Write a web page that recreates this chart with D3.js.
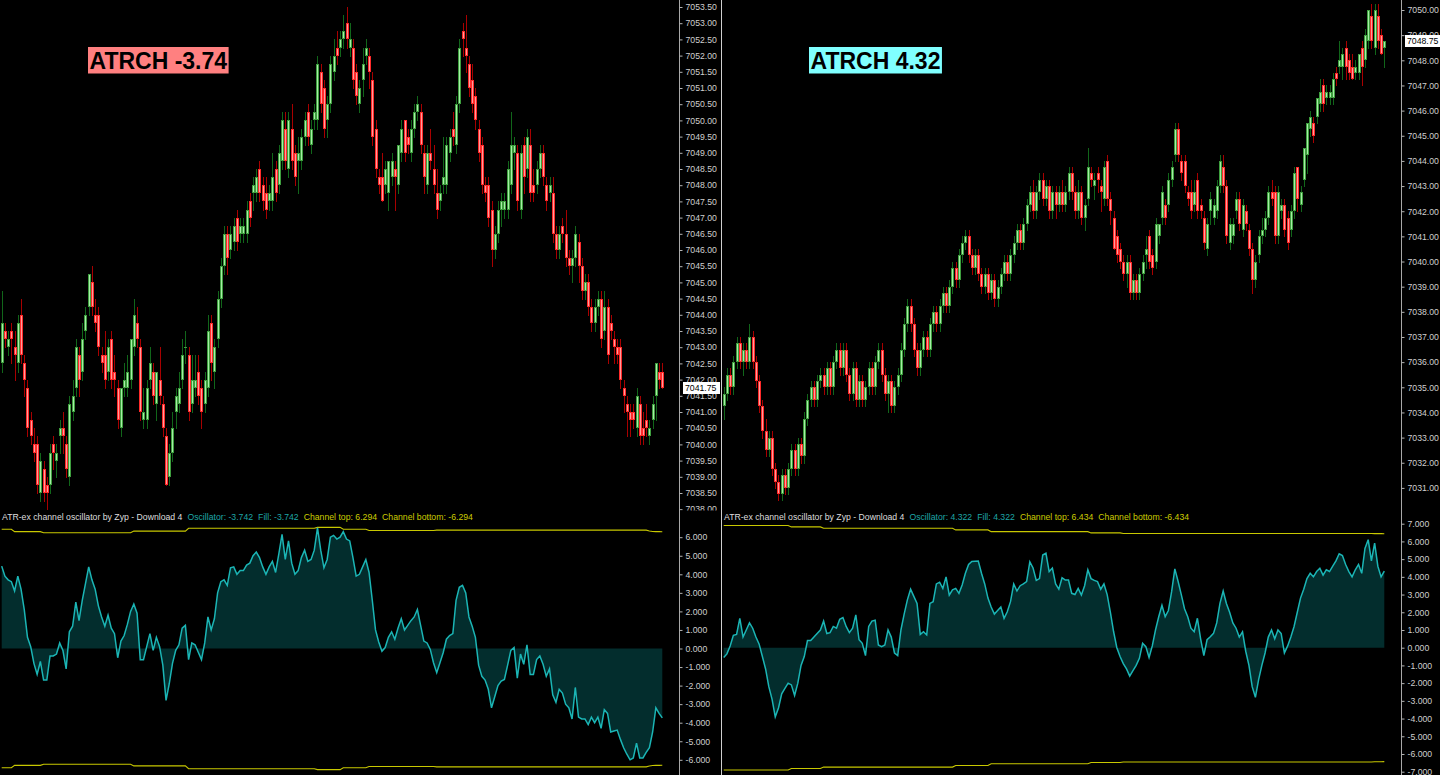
<!DOCTYPE html>
<html><head><meta charset="utf-8">
<script src="https://cdn.jsdelivr.net/npm/d3@7"></script>
<style>html,body{margin:0;padding:0;background:#000;overflow:hidden}svg{display:block}</style>
</head><body><svg id="c" width="1440" height="775"></svg>
<script>
// ---------------- LEFT CHART DATA ----------------
const leftOpen = [
7042.5,7043.5,7043,7043.5,7043,7042.5,7044,7042.5,7041.75,7040.75,
7040,7040,7038.5,7039.25,7038.75,7038.75,7040,7039.5,7040.25,7040.5,
7040,7039,7041,7041.75,7042.75,7042.25,7043.5,7044.25,7045,7044,
7044,7042.75,7042.75,7042.25,7043.25,7042.25,7041.75,7040.5,7041.75,7041.75,
7042,7043,7043.75,7043,7040.75,7040.75,7042,7042.25,7041.25,7042,
7041.25,7040.25,7039,7039.75,7041,7041.25,7042,7043,7042.75,7041.25,
7041.75,7042.25,7041.75,7041.25,7041.75,7043.75,7042.25,7043.25,7044.5,7045.5,
7046.5,7046,7046.25,7047,7046.5,7046.5,7046.5,7047.5,7047.75,7047.75,
7048.5,7048,7047.75,7047.5,7047.5,7048.5,7048,7048.75,7049.75,7048.5,
7049.75,7049,7048.75,7048.75,7049.5,7050.25,7049.25,7050,7050,7051.5,
7051,7050,7050.5,7051.5,7052.25,7052.25,7052.5,7053,7052.25,7052.25,
7051.5,7050.5,7051.25,7052,7052,7051.25,7049.75,7048.25,7048.25,7048,
7047.75,7048.25,7048.5,7048,7049,7050,7049.5,7049,7049.75,7050.25,
7050.25,7049,7048,7049,7048.5,7047.75,7047.5,7048,7048,7049,
7049.75,7049.25,7050.5,7052.75,7052.25,7051.75,7051.25,7050.75,7049.75,7049.25,
7048,7048,7047.25,7046,7046.5,7047.25,7047.25,7047.25,7048,7049,
7049,7047.25,7049.25,7048.5,7049.25,7048,7048,7048.5,7049,7048,
7047.75,7047.75,7046.5,7046,7046.75,7046.5,7045.75,7045.5,7045.75,7046.25,
7045.5,7044.75,7045,7044.25,7043.75,7044.25,7044.5,7043.5,7044.25,7043.75,
7043.25,7043,7043,7041.75,7041.25,7041,7041,7040.5,7041.25,7040.5,
7040.75,7040.25,7040.75,7041.5,7042.25,7042.25];
const leftHigh = [
7044.75,7043.75,7043.5,7043.75,7043.5,7044,7044.5,7042.75,7042,7041,
7040.5,7040.25,7039.75,7039.5,7039,7040,7040.25,7040,7040.75,7041,
7040.25,7041.5,7042,7043.25,7043,7043.75,7044.25,7045.25,7045.5,7044.5,
7044.25,7043,7043.5,7043.25,7043.5,7042.75,7042,7041.75,7042.5,7042.75,
7043.25,7044.5,7044.25,7043.25,7041.75,7042,7043,7042.5,7042.25,7043,
7041.5,7040.5,7040,7041,7041.75,7042.25,7043.25,7043.5,7043,7042.75,
7042.75,7042.75,7042,7042.25,7044,7044,7043.25,7044.75,7045.75,7046.75,
7046.75,7046.75,7047,7047.25,7047,7047,7047.5,7047.75,7048.25,7048.5,
7048.75,7048.25,7048.25,7048,7049,7048.75,7049.25,7050.25,7050.25,7050.25,
7050.5,7049.25,7049.5,7049.75,7050.25,7050.5,7050,7050.5,7052,7051.75,
7051.25,7050.75,7052,7052.5,7052.75,7052.75,7053.25,7053.5,7053,7052.5,
7051.75,7051.25,7052.25,7052.5,7052.25,7051.5,7050,7048.5,7049,7048.75,
7048.75,7049,7048.75,7049.25,7050,7050,7049.75,7050,7050.5,7050.75,
7050.5,7049.25,7049.25,7049.75,7049.25,7048.5,7048,7049.5,7049.5,7049.75,
7050.25,7050.75,7052.5,7053,7053.25,7052,7051.75,7051,7050,7049.5,
7048.25,7048.25,7047.5,7046.75,7047.5,7047.75,7047.75,7048.75,7050.25,7049.5,
7049.25,7049.25,7049.5,7049.75,7049.75,7048.5,7048.75,7049.25,7049.25,7048.25,
7048.25,7048.25,7046.75,7046.75,7047,7047.25,7046,7046,7046.75,7046.5,
7045.75,7045.25,7045.25,7044.5,7044.5,7044.75,7044.75,7044.75,7044.5,7044,
7043.5,7043.25,7043.25,7042,7041.5,7041.25,7041.25,7041.75,7041.5,7041,
7041.25,7040.75,7041.5,7042.5,7042.5,7042.5];
const leftLow = [
7042.25,7043,7042.75,7042.5,7042,7042.25,7042.5,7041.5,7040.25,7040,
7039.5,7038.5,7038.25,7038.25,7038,7038.5,7039.25,7039,7039.75,7039.75,
7039,7038.75,7040.75,7041.5,7041.5,7042,7043.25,7044,7044,7043.5,
7042.75,7042.25,7041.75,7042,7041.75,7041.5,7040.5,7040.25,7041.5,7041.5,
7041.75,7042.75,7043,7040.75,7040.5,7040.5,7041.75,7041.25,7040.75,7041.25,
7040.25,7038.75,7038.75,7039.5,7040.5,7041,7041.75,7042.5,7040.75,7041,
7041.5,7041.25,7040.5,7041,7041.5,7042,7041.75,7043,7044.25,7045.25,
7045.25,7045.75,7046,7046,7046.25,7046.25,7046.25,7046.75,7047.25,7047.5,
7047.5,7047.25,7047,7047.25,7047.25,7047.5,7047.75,7048.5,7048.5,7048.25,
7048.5,7048,7047.75,7048.5,7049.25,7049.25,7049,7049.75,7049.75,7050.25,
7049.5,7049.5,7050.25,7051.25,7051.75,7052,7052.25,7052.25,7052,7051,
7050.5,7050.25,7050.75,7051.75,7051,7049.25,7048.25,7047.75,7047.5,7047.75,
7047.25,7048,7047.25,7047.75,7048.75,7048.75,7049,7048.75,7049.5,7050,
7049,7047.75,7047.75,7048.5,7047.75,7047,7047.25,7047.75,7047.75,7048.75,
7049.25,7049,7050.25,7052,7051.5,7050.75,7050.25,7049.75,7048.75,7047.75,
7047.5,7046.75,7045.5,7045.75,7046.25,7046.75,7047,7047,7047.75,7048.5,
7047.25,7047,7047.75,7048.25,7047.5,7047.5,7047.75,7048.25,7048,7047.25,
7047.5,7046.25,7045.75,7045.75,7046.25,7045.5,7045.25,7045,7045.5,7045,
7044.5,7044.5,7044,7043.5,7043.5,7044,7043,7043.25,7042.5,7043.25,
7042.5,7042.5,7041.75,7041,7040.25,7040.25,7040.5,7040.25,7040,7040,
7040.25,7040,7040.5,7040.75,7041.75,7041.75];
const leftClose = [
7043.75,7043.25,7043.25,7043.25,7042.75,7043.75,7042.75,7042,7040.5,7040.25,
7039.75,7038.75,7039.5,7038.5,7038.5,7039.75,7039.75,7039.75,7040.5,7040.25,
7039.25,7041.25,7041.5,7043,7042,7043.25,7044,7045.25,7044.25,7043.75,
7043,7042.5,7042,7043,7042,7042,7040.75,7041.75,7042,7042.25,
7043.25,7044,7043.25,7041,7041,7041.75,7042.5,7041.5,7042.25,7041.5,
7040.5,7038.75,7039.75,7040.5,7041.5,7041.75,7042.75,7043,7041,7042,
7042,7041.5,7041,7042,7043.5,7042.5,7043,7044.5,7045.5,7046.5,
7045.75,7046.5,7046.75,7046.25,7046.75,7046.75,7047.25,7047,7048,7048.25,
7047.75,7047.5,7047.25,7047.75,7048.25,7047.75,7049,7050,7048.75,7050,
7048.75,7048.25,7049,7049.5,7050,7049.5,7049.75,7050.25,7051.75,7050.5,
7049.75,7050.5,7051.75,7052,7052,7052.5,7052.75,7052.5,7052.5,7051.25,
7050.75,7051,7051.75,7052.25,7051.5,7049.5,7048.5,7048,7047.5,7048.5,
7048.75,7048.75,7048.25,7049.25,7049.75,7049,7049.25,7049.75,7050.25,7050.5,
7049.25,7048.25,7049,7048.75,7048,7047.25,7047.75,7048.25,7049.25,7049.5,
7049.5,7050.5,7052.25,7052.5,7052,7051,7050.5,7050,7049,7048,
7047.75,7047,7046,7046.5,7047.25,7047.5,7047.5,7048.5,7049.25,7049.25,
7047.5,7049,7048.25,7049.5,7047.75,7047.75,7048.5,7049,7048.25,7047.5,
7048,7046.5,7046,7046.5,7046.5,7045.75,7045.5,7045.75,7046.5,7045.5,
7044.75,7045,7044.25,7043.75,7044.25,7044.5,7043.25,7044.25,7042.75,7043.5,
7043,7042.75,7042,7041.5,7041,7040.75,7040.75,7041.5,7040.25,7040.25,
7040.5,7040.5,7041.25,7042.5,7042,7041.75];
const leftOsc = [
4.44,3.9,3.7,3.6,3.1,3.9,3.2,2.1,0.6,0.1,
-0.8,-1.4,-0.7,-1.7,-1.7,-0.4,-0.4,-0.3,0.3,-0.1,
-1.1,0.9,1.2,2.5,1.5,2.6,3.5,4.4,3.7,3.2,
2.3,1.7,1.2,1.8,1.1,0.8,-0.5,0.4,0.7,1.3,
2.0,2.4,1.9,-0.6,-0.6,0.1,0.8,-0.1,0.6,0.1,
-0.9,-2.8,-1.9,-0.8,-0.1,0.2,1.1,1.25,-0.6,0.3,
0.2,-0.2,-0.6,0.3,1.7,1.0,1.6,3.0,3.6,3.7,
3.4,4.35,4.4,4.0,4.2,4.2,4.5,4.6,5.0,5.2,
4.9,4.4,4.0,4.4,4.7,4.1,5.1,6.15,4.8,5.8,
4.6,4.0,4.2,4.9,5.3,4.7,4.8,5.3,6.5,5.3,
4.35,4.8,6.0,6.1,5.9,6.0,6.3,5.9,5.8,4.9,
3.9,4.0,4.4,4.8,4.1,2.6,1.0,0.35,-0.15,0.05,
0.6,0.9,0.5,1.1,1.6,1.0,1.25,1.5,1.7,2.1,
1.25,0.4,0.3,-0.05,-0.77,-1.3,-0.77,-0.23,0.5,0.7,
0.8,2.6,3.3,3.4,3.0,1.7,1.2,0.6,-0.9,-1.5,
-1.7,-2.2,-3.2,-2.6,-2.0,-1.76,-1.67,-0.9,-0.1,0.05,
-1.6,-0.3,-0.85,0.2,-1.4,-1.4,-0.6,-0.4,-0.85,-1.5,
-1.1,-2.5,-2.9,-2.2,-2.4,-3.0,-3.2,-3.8,-2.1,-3.7,
-3.8,-3.8,-4.1,-3.7,-4.0,-3.7,-4.3,-3.3,-3.5,-4.5,
-4.45,-4.4,-4.9,-5.35,-5.7,-6.0,-5.9,-5.1,-5.9,-5.9,
-5.6,-5.35,-4.5,-3.2,-3.5,-3.742];
const leftChannel = [
6.43,6.43,6.43,6.43,6.3,6.3,6.3,6.3,6.3,6.3,
6.3,6.3,6.3,6.24,6.24,6.24,6.24,6.24,6.24,6.24,
6.24,6.24,6.24,6.24,6.24,6.24,6.24,6.24,6.24,6.24,
6.24,6.24,6.24,6.24,6.24,6.24,6.24,6.24,6.24,6.24,
6.24,6.33,6.33,6.33,6.33,6.33,6.33,6.33,6.33,6.33,
6.33,6.33,6.33,6.33,6.33,6.33,6.33,6.33,6.48,6.48,
6.48,6.48,6.48,6.48,6.48,6.48,6.48,6.48,6.48,6.48,
6.48,6.48,6.48,6.48,6.48,6.48,6.48,6.48,6.48,6.48,
6.48,6.48,6.48,6.48,6.48,6.48,6.48,6.48,6.48,6.48,
6.48,6.48,6.48,6.48,6.48,6.48,6.48,6.48,6.53,6.53,
6.53,6.53,6.53,6.53,6.53,6.53,6.43,6.43,6.43,6.43,
6.43,6.43,6.43,6.43,6.36,6.36,6.36,6.36,6.36,6.36,
6.36,6.36,6.36,6.36,6.36,6.36,6.36,6.36,6.36,6.36,
6.36,6.36,6.36,6.36,6.36,6.38,6.38,6.38,6.38,6.38,
6.38,6.38,6.38,6.38,6.38,6.38,6.38,6.38,6.38,6.38,
6.38,6.38,6.38,6.38,6.38,6.38,6.38,6.38,6.38,6.38,
6.38,6.38,6.38,6.38,6.38,6.38,6.38,6.38,6.38,6.38,
6.38,6.38,6.38,6.38,6.38,6.38,6.38,6.38,6.38,6.38,
6.38,6.38,6.38,6.38,6.38,6.38,6.38,6.38,6.38,6.38,
6.38,6.38,6.38,6.38,6.38,6.38,6.38,6.38,6.38,6.38,
6.38,6.33,6.31,6.3,6.3,6.294];

// ---------------- RIGHT CHART DATA ----------------
const rightOpen = [
7034.25,7034.75,7035.5,7035,7036,7036.75,7036,7036.5,7036,7037,
7036,7035.25,7034.25,7033.25,7032.5,7033,7031.75,7031.25,7030.75,7031.5,
7031,7031.75,7032.5,7031.75,7032.75,7032.25,7033.75,7034.5,7035,7034.5,
7035.25,7035.5,7035,7035.75,7035,7036,7036.5,7035.75,7036.5,7035.5,
7034.75,7035.75,7034.5,7035.25,7034.5,7035,7035.75,7035,7036,7036.5,
7035.5,7034.75,7035.25,7034.25,7035,7035.5,7036.5,7037.5,7038.25,7037.5,
7036.5,7035.75,7036.5,7037,7036.5,7037.5,7038,7037.5,7038.25,7038.75,
7038.25,7039,7039.75,7039.25,7040.25,7040.75,7041,7040.25,7039.75,7040.25,
7039.5,7039,7039.5,7038.75,7039.25,7038.5,7039,7039.5,7040,7039.5,
7040.25,7040.75,7041.25,7040.75,7041.5,7042.25,7042.75,7042,7042.75,7043.25,
7042.5,7043,7042,7042.75,7042.25,7042.75,7042.25,7042.75,7043.5,7042.75,
7042,7042.75,7041.75,7042.5,7043.5,7043,7043.5,7043,7042.5,7044,
7042.5,7041.75,7041,7040.5,7040,7039.5,7040,7038.75,7039.25,7038.75,
7039.5,7040.25,7041,7040.25,7040,7041,7041.75,7042.25,7042.25,7043.25,
7044.25,7045.25,7044,7044,7042.75,7042.75,7042.25,7043.25,7042.25,7041.75,
7040.5,7042,7041.75,7042,7043,7043.75,7043,7040.75,7041,7042,
7042.5,7041.25,7042,7041.25,7040.5,7039.25,7040.25,7041,7041.25,7041.75,
7042.75,7042.75,7041,7042,7042.25,7041.75,7041.25,7042,7043.75,7042.25,
7043.25,7044.25,7045.25,7045.5,7045.75,7046.25,7047,7046.5,7046.5,7046.5,
7047.5,7047.75,7047.75,7048.5,7048,7047.75,7047.5,7047.5,7048.5,7048,
7048.75,7049.75,7048.5,7049.75,7049,7048.5];
const rightHigh = [
7035,7035.75,7035.75,7036.25,7037,7037,7036.75,7036.75,7037.5,7037.25,
7036.25,7035.5,7034.5,7033.75,7033.25,7033.25,7032,7031.5,7031.75,7031.75,
7032,7032.75,7032.75,7033,7033,7034,7034.75,7035.25,7035.25,7035.5,
7035.75,7035.75,7036,7036,7036.25,7036.75,7036.75,7036.75,7036.75,7035.75,
7036,7036,7035.5,7035.5,7035.25,7036,7036,7036.25,7036.75,7036.75,
7035.75,7035.5,7035.5,7035.25,7035.75,7036.75,7037.75,7038.5,7038.5,7037.75,
7036.75,7036.75,7037.25,7037.25,7037.75,7038.25,7038.25,7038.5,7039,7039,
7039.25,7040,7040,7040.5,7041,7041.25,7041.25,7040.5,7040.5,7040.5,
7039.75,7039.75,7039.75,7039.5,7039.5,7039.25,7039.75,7040.25,7040.25,7040.5,
7041,7041.5,7041.5,7041.75,7042.5,7043,7043.25,7043,7043.5,7043.5,
7043.25,7043.25,7043,7043,7043,7043.25,7043,7043.75,7043.75,7043,
7043.25,7043,7042.5,7044.5,7043.75,7043.5,7043.75,7043.25,7044,7044.25,
7042.75,7042,7041.25,7040.75,7040.25,7040.25,7040.25,7039.5,7039.5,7039.75,
7040.25,7041,7041.25,7040.5,7041.75,7041.5,7043,7042.5,7043.5,7044,
7045.5,7045.5,7044.25,7044.25,7043,7043.25,7043.25,7043.5,7042.5,7042,
7041.75,7042.75,7042.5,7043.25,7044.25,7044.25,7043.25,7041.75,7041.75,7042.75,
7042.75,7042.5,7042.25,7041.5,7040.75,7040.25,7041.25,7041.75,7042,7043,
7043.25,7043,7043,7042.5,7042.5,7042,7042.25,7043.75,7043.75,7043,
7044.5,7045.5,7046,7045.75,7046.5,7047.25,7047.25,7047,7047,7047.5,
7047.75,7048.75,7048.5,7048.75,7048.25,7048.25,7048,7048.25,7048.75,7049.25,
7050,7050.25,7050.25,7050.25,7049.25,7048.75];
const rightLow = [
7033.75,7034.5,7034.75,7034.75,7035.75,7035.75,7035.5,7035.75,7035.75,7035.75,
7035,7034,7033,7032.25,7032.25,7031.5,7031,7030.5,7030.5,7030.75,
7030.75,7031.5,7031.5,7031.5,7032,7032,7033.5,7034.25,7034.25,7034.25,
7035,7034.75,7034.75,7034.75,7034.75,7035.75,7035.5,7035.5,7035.25,7034.5,
7034.5,7034.25,7034.25,7034.25,7034.25,7034.75,7034.75,7034.75,7035.75,7035.25,
7034.5,7034,7034,7034,7034.75,7035.25,7036.25,7037.25,7037.25,7036.25,
7035.5,7035.5,7036.25,7036.25,7036.25,7037.25,7037.25,7037.25,7038,7038,
7038,7038.75,7039,7039,7040,7040.5,7040,7039.5,7039.5,7039.25,
7038.75,7038.75,7038.5,7038.5,7038.25,7038.25,7038.75,7039.25,7039.25,7039.25,
7040,7040.5,7040.5,7040.5,7041.25,7042,7041.75,7041.75,7042.5,7042.25,
7042.25,7041.75,7041.75,7041.75,7042,7042,7042,7042.5,7042.5,7041.75,
7041.75,7041.5,7041.25,7042.25,7043,7042.5,7042.75,7042,7042.25,7042.25,
7041.5,7040.5,7040,7039.75,7039.25,7039,7038.5,7038.5,7038.5,7038.5,
7039.25,7039.75,7039.75,7039.5,7039.75,7040.75,7041.5,7041.5,7042,7043,
7044,7044,7043.25,7042.75,7042.25,7041.75,7042,7041.75,7041.75,7040.5,
7040.25,7041.5,7041.5,7041.75,7042.75,7042.75,7040.75,7040.5,7040.75,7041.75,
7041.25,7041,7041.25,7040.25,7038.75,7039,7040,7040.75,7041,7041.5,
7042.25,7040.75,7040.75,7041.75,7041,7040.5,7041,7041.75,7042,7042,
7043,7043.5,7045,7044.75,7045.5,7046,7046,7046.25,7046.25,7046.25,
7047,7047.5,7047.25,7047.25,7047.25,7047.25,7047.25,7047.25,7047,7047.75,
7048.5,7048.5,7048.25,7048.5,7048.25,7047.75];
const rightClose = [
7034.75,7035.5,7035,7036,7036.75,7036,7036.5,7036,7037,7036,
7035.25,7034.25,7033.25,7032.5,7033,7031.75,7031.25,7030.75,7031.5,7031,
7031.75,7032.5,7031.75,7032.75,7032.25,7033.75,7034.5,7035,7034.5,7035.25,
7035.5,7035,7035.75,7035,7036,7036.5,7035.75,7036.5,7035.5,7034.75,
7035.75,7034.5,7035.25,7034.5,7035,7035.75,7035,7036,7036.5,7035.5,
7034.75,7035.25,7034.25,7035,7035.5,7036.5,7037.5,7038.25,7037.5,7036.5,
7035.75,7036.5,7037,7036.5,7037.5,7038,7037.5,7038.25,7038.75,7038.25,
7039,7039.75,7039.25,7040.25,7040.75,7041,7040.25,7039.75,7040.25,7039.5,
7039,7039.5,7038.75,7039.25,7038.5,7039,7039.5,7040,7039.5,7040.25,
7040.75,7041.25,7040.75,7041.5,7042.25,7042.75,7042,7042.75,7043.25,7042.5,
7043,7042,7042.75,7042.25,7042.75,7042.25,7042.75,7043.5,7042.75,7042,
7042.75,7041.75,7042.25,7043.75,7043.25,7043.25,7043.25,7042.75,7043.75,7042.5,
7042,7040.5,7040.25,7040,7039.5,7040,7038.75,7039.25,7038.75,7039.5,
7040,7040.5,7040,7039.75,7041.5,7041.5,7042.75,7041.75,7043.25,7043.75,
7045.25,7044.25,7043.5,7043,7042.5,7042,7042.75,7042,7042,7040.75,
7041.5,7042.5,7042.25,7043,7044,7043,7041,7041.5,7041.5,7042.5,
7041.5,7042.25,7041.5,7040.5,7039.25,7040,7041,7041.25,7041.75,7042.75,
7042.5,7041,7042.75,7042.25,7041.25,7040.75,7042,7043.5,7042.5,7042.75,
7044.5,7045.5,7045.75,7045,7046.5,7046.75,7046.25,7046.75,7046.75,7047.25,
7047.25,7048,7048.25,7047.75,7047.5,7047.25,7047.75,7048.25,7047.75,7049,
7050,7048.75,7050,7048.75,7048.25,7048.75];
const rightOsc = [
-0.55,-0.35,0.1,0.7,0.75,1.65,0.6,1.0,1.4,1.1,
0.6,0.2,-0.5,-1.2,-2.2,-2.9,-3.9,-3.4,-2.6,-2.3,
-2.0,-2.1,-2.7,-2.0,-1.0,-0.5,0.4,0.4,0.6,0.8,
1.0,1.5,0.8,0.85,1.2,1.1,1.6,1.7,1.2,0.85,
1.1,1.85,0.45,0.25,-0.45,1.2,1.5,1.55,0.15,0.06,
0.15,1.0,0.6,-0.3,-0.45,1.0,1.9,2.7,3.3,2.9,
2.5,0.75,0.9,0.72,2.5,2.6,3.6,3.7,3.35,4.0,
2.97,3.26,3.35,3.07,3.54,4.2,4.7,4.87,4.88,4.89,
4.2,3.6,2.8,2.3,1.9,2.1,2.3,1.66,2.03,2.6,
3.6,3.2,3.5,3.6,3.73,4.85,4.5,3.8,3.9,5.23,
5.33,4.3,4.5,3.6,3.3,3.95,3.82,3.82,3.07,3.0,
3.35,2.97,3.5,4.4,3.9,3.8,3.73,3.3,3.6,3.0,
2.0,0.9,0.0,-0.5,-0.9,-1.2,-1.6,-1.3,-1.0,-0.6,
0.25,0.06,-0.55,0.1,1.0,1.75,2.4,1.75,2.1,3.16,
4.45,3.75,3.0,2.2,1.75,1.1,0.9,1.66,0.5,-0.45,
0.45,0.62,0.81,1.4,2.5,3.2,2.5,2.0,1.4,1.1,
0.6,0.9,-0.2,-1.0,-2.2,-2.8,-1.8,-1.0,-0.3,0.6,
1.0,0.5,1.0,0.8,-0.3,0.1,0.6,1.2,2.0,2.8,
3.3,3.9,4.2,4.0,4.3,4.48,4.1,4.4,4.3,4.6,
4.9,5.3,5.2,4.7,4.3,4.0,4.4,4.7,4.2,5.6,
6.1,4.9,5.9,4.6,4.0,4.322];
const rightChannel = [
6.9,6.9,6.9,6.9,6.9,6.9,6.9,6.9,6.9,6.9,
6.9,6.9,6.9,6.9,6.9,6.9,6.9,6.9,6.9,6.9,
6.9,6.82,6.82,6.82,6.82,6.82,6.82,6.82,6.82,6.82,
6.82,6.74,6.74,6.74,6.74,6.74,6.74,6.74,6.74,6.74,
6.74,6.74,6.74,6.74,6.74,6.74,6.74,6.74,6.74,6.74,
6.74,6.74,6.74,6.74,6.74,6.74,6.74,6.74,6.74,6.74,
6.74,6.74,6.74,6.74,6.74,6.74,6.74,6.74,6.74,6.74,
6.74,6.74,6.65,6.65,6.65,6.65,6.65,6.65,6.65,6.65,
6.65,6.65,6.65,6.55,6.55,6.55,6.55,6.55,6.55,6.55,
6.55,6.55,6.55,6.55,6.55,6.55,6.55,6.55,6.55,6.55,
6.55,6.55,6.55,6.55,6.55,6.55,6.55,6.55,6.55,6.55,
6.55,6.55,6.55,6.55,6.48,6.48,6.48,6.48,6.48,6.48,
6.48,6.48,6.48,6.48,6.45,6.45,6.45,6.45,6.45,6.45,
6.45,6.45,6.45,6.45,6.45,6.45,6.45,6.45,6.45,6.45,
6.45,6.45,6.45,6.45,6.45,6.45,6.45,6.45,6.45,6.45,
6.45,6.45,6.45,6.45,6.45,6.45,6.45,6.45,6.45,6.45,
6.45,6.45,6.45,6.45,6.45,6.45,6.45,6.45,6.45,6.45,
6.45,6.45,6.45,6.45,6.45,6.45,6.45,6.45,6.45,6.45,
6.45,6.45,6.45,6.45,6.45,6.45,6.45,6.45,6.45,6.45,
6.45,6.45,6.45,6.45,6.45,6.45,6.45,6.45,6.45,6.45,
6.45,6.45,6.44,6.44,6.44,6.434];

// ---------------- TICKS & LABELS ----------------
const leftPriceTicks = [7038,7038.5,7039,7039.5,7040,7040.5,7041,7041.5,7042,7042.5,7043,7043.5,7044,7044.5,7045,7045.5,7046,7046.5,7047,7047.5,7048,7048.5,7049,7049.5,7050,7050.5,7051,7051.5,7052,7052.5,7053,7053.5];
const rightPriceTicks = [7031,7032,7033,7034,7035,7036,7037,7038,7039,7040,7041,7042,7043,7044,7045,7046,7047,7048,7049,7050];
const leftOscTicks = [6,5,4,3,2,1,0,-1,-2,-3,-4,-5,-6];
const rightOscTicks = [7,6,5,4,3,2,1,0,-1,-2,-3,-4,-5,-6,-7];
const indicatorName = "ATR-ex channel oscillator by Zyp - Download 4";
const badgePrefix = "ATRCH ";

// ---------------- DRAW ----------------
const W = 1440, H = 775;
const svg = d3.select('#c');
svg.append('rect').attr('width', W).attr('height', H).attr('fill', '#000');
const defs = svg.append('defs');
const FONT = '"Liberation Sans", Arial, sans-serif';

function panel(cfg) {
  const { x0, open, high, low, close, osc, chan } = cfg;
  const n = close.length;
  const idx = d3.range(n);
  const g = svg.append('g');
  const xs = d3.scaleLinear().domain([0, n - 1]).range([x0 + 1.7, x0 + 662.3]);
  const yP = d3.scaleLinear().domain(cfg.priceDomain).range(cfg.priceRange);
  const yO = d3.scaleLinear().domain(cfg.oscDomain).range(cfg.oscRange);
  const id = 'p' + x0;
  const mk = (s, x, y, w, h) => defs.append('clipPath').attr('id', id + s).append('rect').attr('x', x).attr('y', y).attr('width', w).attr('height', h);
  mk('a', x0, 0, 679, 510.5);
  mk('b', x0, 511, 679, 264);
  mk('c', x0 + 679, 0, 42, 510.5);
  mk('d', x0 + 679, 511, 42, 264);

  // candles
  const cg = g.append('g').attr('clip-path', `url(#${id}a)`);
  const px = i => Math.round(xs(i));
  const bull = i => close[i] >= open[i];
  const top = i => Math.round(yP(Math.max(open[i], close[i])));
  const bh = i => Math.max(1, Math.round(yP(Math.min(open[i], close[i]))) - top(i));
  cg.selectAll('line.w').data(idx).join('line').attr('class', 'w')
    .attr('x1', i => px(i) + 0.5).attr('x2', i => px(i) + 0.5)
    .attr('y1', i => Math.round(yP(high[i]))).attr('y2', i => Math.round(yP(low[i])) + 1)
    .attr('stroke', i => bull(i) ? '#11661a' : '#a80000').attr('stroke-width', 1);
  cg.selectAll('rect.b').data(idx).join('rect').attr('class', 'b')
    .attr('x', i => px(i) - 1).attr('width', 3)
    .attr('y', top).attr('height', bh)
    .attr('fill', i => bull(i) ? '#3e9e3e' : '#ff2a2a');
  cg.selectAll('rect.c').data(idx.filter(i => bh(i) > 2)).join('rect').attr('class', 'c')
    .attr('x', i => px(i)).attr('width', 1)
    .attr('y', i => top(i) + 1).attr('height', i => bh(i) - 2)
    .attr('fill', i => bull(i) ? '#a6eea6' : '#ff9c9c');

  // oscillator
  const og = g.append('g').attr('clip-path', `url(#${id}b)`);
  og.append('path').datum(idx)
    .attr('d', d3.area().x(i => xs(i)).y0(yO(0)).y1(i => yO(osc[i])))
    .attr('fill', '#032d2d');
  og.append('path').datum(idx)
    .attr('d', d3.line().x(i => xs(i)).y(i => yO(chan[i])))
    .attr('fill', 'none').attr('stroke', '#c8c800').attr('stroke-width', 1.1);
  og.append('path').datum(idx)
    .attr('d', d3.line().x(i => xs(i)).y(i => yO(-chan[i])))
    .attr('fill', 'none').attr('stroke', '#c8c800').attr('stroke-width', 1.1);
  og.append('path').datum(idx)
    .attr('d', d3.line().x(i => xs(i)).y(i => yO(osc[i])))
    .attr('fill', 'none').attr('stroke', '#1bb5b5').attr('stroke-width', 1.5);

  // axis line
  g.append('line').attr('x1', x0 + 679.5).attr('x2', x0 + 679.5).attr('y1', 0).attr('y2', H)
    .attr('stroke', '#a8a8a8').attr('stroke-width', 1);

  const styleAxis = sel => {
    sel.select('.domain').remove();
    sel.attr('font-family', FONT).attr('font-size', 8.7);
    sel.selectAll('line').attr('stroke', '#b4b4b4');
    sel.selectAll('text').attr('fill', '#cfcfcf');
  };
  const axP = d3.axisRight(yP).tickValues(cfg.priceTicks).tickSize(3).tickPadding(3).tickFormat(d => d.toFixed(2));
  g.append('g').attr('clip-path', `url(#${id}c)`).append('g')
    .attr('transform', `translate(${x0 + 679.5},0)`).call(axP).call(styleAxis);
  const axO = d3.axisRight(yO).tickValues(cfg.oscTicks).tickSize(3).tickPadding(3).tickFormat(d => d.toFixed(3));
  g.append('g').attr('clip-path', `url(#${id}d)`).append('g')
    .attr('transform', `translate(${x0 + 679.5},0)`).call(axO).call(styleAxis);

  // current price label
  const last = close[n - 1];
  const cy = Math.round(yP(last));
  const lg = g.append('g').attr('clip-path', `url(#${id}c)`);
  lg.append('rect').attr('x', x0 + 683).attr('y', cy - 6).attr('width', 37).attr('height', 12).attr('fill', '#ffffff');
  lg.append('text').attr('x', x0 + 685).attr('y', cy).attr('dy', '0.34em')
    .attr('font-family', FONT).attr('font-size', 8.7).attr('fill', '#000').text(last.toFixed(2));

  // indicator header
  const oscLast = osc[n - 1], chLast = chan[n - 1];
  const t = g.append('text').attr('x', x0 + 2).attr('y', 519.5).attr('font-family', FONT).attr('font-size', 8.7);
  t.append('tspan').attr('fill', '#dedede').text(indicatorName);
  t.append('tspan').attr('dx', 5).attr('fill', '#1ea6a6').text('Oscillator: ' + oscLast.toFixed(3));
  t.append('tspan').attr('dx', 5).attr('fill', '#1ea6a6').text('Fill: ' + oscLast.toFixed(3));
  t.append('tspan').attr('dx', 5).attr('fill', '#cccc00').text('Channel top: ' + chLast.toFixed(3));
  t.append('tspan').attr('dx', 5).attr('fill', '#cccc00').text('Channel bottom: ' + (-chLast).toFixed(3));

  // badge
  const bg = g.append('g');
  const br = bg.append('rect');
  const bt = bg.append('text').attr('x', cfg.badgeX + 1.5).attr('y', 69.3)
    .attr('font-family', FONT).attr('font-weight', 'bold').attr('font-size', 23).attr('fill', '#000')
    .text(badgePrefix + oscLast.toFixed(2));
  const bw = bt.node().getComputedTextLength();
  br.attr('x', cfg.badgeX).attr('y', 47).attr('width', bw + 3).attr('height', 26.5).attr('fill', cfg.badgeColor);
}

panel({
  x0: 0, open: leftOpen, high: leftHigh, low: leftLow, close: leftClose, osc: leftOsc, chan: leftChannel,
  priceDomain: [7038, 7053.5], priceRange: [509.2, 7], priceTicks: leftPriceTicks,
  oscDomain: [-6, 6], oscRange: [759.8, 537.2], oscTicks: leftOscTicks,
  badgeX: 88, badgeColor: '#ff8080'
});
panel({
  x0: 722, open: rightOpen, high: rightHigh, low: rightLow, close: rightClose, osc: rightOsc, chan: rightChannel,
  priceDomain: [7031, 7050], priceRange: [487.9, 10], priceTicks: rightPriceTicks,
  oscDomain: [-7, 7], oscRange: [771.7, 523.7], oscTicks: rightOscTicks,
  badgeX: 809, badgeColor: '#80ffff'
});

// separator between the two charts
svg.append('line').attr('x1', 721.5).attr('x2', 721.5).attr('y1', 0).attr('y2', H)
  .attr('stroke', '#cfcfcf').attr('stroke-width', 1);
</script>
</body></html>
